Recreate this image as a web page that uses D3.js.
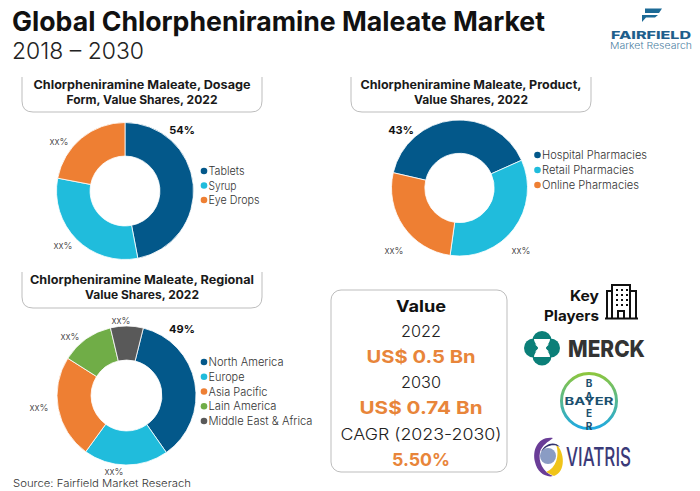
<!DOCTYPE html>
<html>
<head>
<meta charset="utf-8">
<script src="https://cdn.jsdelivr.net/npm/d3@7"></script>
<style>
  html, body { margin: 0; padding: 0; background: #fff; }
  svg { display: block; font-family: Inter, Lato, sans-serif; }
</style>
</head>
<body>
<div id="chart"></div>
<script>
const dosageNames = ["Tablets", "Syrup", "Eye Drops"];
const dosageShares = [47, 31, 22];
const dosageLabels = ["54%", "xx%", "xx%"];

const productNames = ["Hospital Pharmacies", "Retail Pharmacies", "Online Pharmacies"];
const productShares = [39.7, 33.9, 26.4];
const productLabels = ["43%", "xx%", "xx%"];

const regionNames = ["North America", "Europe", "Asia Pacific", "Lain America", "Middle East & Africa"];
const regionShares = [36.4, 19.7, 24, 12.3, 7.6];
const regionLabels = ["49%", "xx%", "xx%", "xx%", "xx%"];

const palette = ["#03588a", "#20bcdc", "#ee7f33", "#70ad47", "#595959"];

const w = 700, h = 491;
const svg = d3.select("#chart").append("svg")
  .attr("width", w).attr("height", h).attr("viewBox", `0 0 ${w} ${h}`);

// text with a fixed width, the reference font is wider than what we have here
function label(x, y, str, size, opts = {}) {
  const t = svg.append("text")
    .attr("x", x).attr("y", y)
    .attr("font-size", size)
    .attr("font-weight", opts.weight || 400)
    .attr("fill", opts.fill || "#222")
    .attr("text-anchor", opts.anchor || "start")
    .text(str);
  if (opts.len) t.attr("textLength", opts.len).attr("lengthAdjust", "spacingAndGlyphs");
  return t;
}

function donut(cfg) {
  const color = d3.scaleOrdinal().domain(cfg.names).range(palette);
  const start = cfg.start * Math.PI / 180;
  const pie = d3.pie().sort(null).startAngle(start).endAngle(start + 2 * Math.PI);
  const arc = d3.arc().innerRadius(cfg.r * 0.51).outerRadius(cfg.r);
  const g = svg.append("g").attr("transform", `translate(${cfg.cx},${cfg.cy})`);
  g.selectAll("path")
    .data(pie(cfg.values))
    .enter()
    .append("path")
    .attr("d", arc)
    .attr("fill", (d, i) => color(cfg.names[i]))
    .attr("stroke", "#fff")
    .attr("stroke-width", 0.8);

  // value labels sit at hand placed offsets around the ring
  cfg.labels.forEach((s, i) => {
    const p = cfg.labelPos[i];
    label(p[0], p[1], s, i === 0 ? 11 : 9.5, {
      weight: i === 0 ? 700 : 300, fill: i === 0 ? "#111" : "#333", anchor: "middle"
    });
  });

  const y = d3.scalePoint().domain(cfg.names).range(cfg.legendY);
  cfg.names.forEach((n, i) => {
    svg.append("circle").attr("cx", cfg.legendX).attr("cy", y(n)).attr("r", 3.3).attr("fill", color(n));
    label(cfg.legendX + 4.5, y(n) + 4, n, 11, { weight: 300, fill: "#333", len: cfg.legendLen[i] });
  });
}

function titleBox(x, y, wd, ht, lines, lens) {
  const r = 11;
  svg.append("path")
    .attr("d", `M${x},${y} V${y + ht - r} Q${x},${y + ht} ${x + r},${y + ht} H${x + wd - r} Q${x + wd},${y + ht} ${x + wd},${y + ht - r} V${y}`)
    .attr("fill", "none").attr("stroke", "#bdbdbd").attr("stroke-width", 1);
  lines.forEach((s, i) => {
    label(x + wd / 2, y + 11.5 + i * 15, s, 12, { weight: 700, fill: "#1a1a1a", anchor: "middle", len: lens[i] });
  });
}

// header
label(12, 30.5, "Global Chlorpheniramine Maleate Market", 27, { weight: 700, fill: "#111", len: 533 });
label(12, 59, "2018 – 2030", 23, { weight: 300, fill: "#222", len: 132 });

// fairfield logo
svg.append("path").attr("d", "M645,8.5 H662 L659,13 H645 Z M642,15 H658 L655,17.5 H646 L642,22 Z").attr("fill", "#1c6a96");
label(611, 38.5, "FAIRFIELD", 10.5, { weight: 800, fill: "#1f5f8c", len: 80 });
label(610, 49, "Market Research", 9.5, { weight: 300, fill: "#4d7fa3", len: 82 });

titleBox(22, 77, 240, 35, ["Chlorpheniramine Maleate, Dosage", "Form, Value Shares, 2022"], [217, 151]);
titleBox(351, 77, 240, 35, ["Chlorpheniramine Maleate, Product,", "Value Shares, 2022"], [221, 114]);
titleBox(22, 272, 240, 36, ["Chlorpheniramine Maleate, Regional", "Value Shares, 2022"], [224, 114]);

donut({
  cx: 125, cy: 191, r: 68.5, start: 0,
  names: dosageNames, values: dosageShares, labels: dosageLabels,
  labelPos: [[182, 134], [63, 249], [59, 145]],
  legendX: 204, legendY: [171, 200], legendLen: [36, 28, 51]
});
donut({
  cx: 459.5, cy: 188, r: 68, start: -77,
  names: productNames, values: productShares, labels: productLabels,
  labelPos: [[401, 134], [521, 254], [394, 254]],
  legendX: 537.5, legendY: [155, 185], legendLen: [105, 92, 97]
});
donut({
  cx: 126.5, cy: 395.5, r: 69.5, start: 14,
  names: regionNames, values: regionShares, labels: regionLabels,
  labelPos: [[182, 333], [114, 475], [39, 411], [70, 340], [121, 324]],
  legendX: 204, legendY: [362, 421], legendLen: [75, 36, 59, 68, 104]
});

label(13, 487, "Source: Fairfield Market Reserach", 10.5, { weight: 300, fill: "#333", len: 178 });

// value panel
svg.append("rect").attr("x", 331).attr("y", 290).attr("width", 176).attr("height", 182).attr("rx", 10)
  .attr("fill", "none").attr("stroke", "#bdbdbd");
const panelX = 421;
label(panelX, 312, "Value", 16, { weight: 700, fill: "#111", anchor: "middle", len: 50 });
label(panelX, 337, "2022", 16, { weight: 300, fill: "#222", anchor: "middle", len: 40 });
label(panelX, 363, "US$ 0.5 Bn", 18, { weight: 700, fill: "#e8853a", anchor: "middle", len: 109 });
label(panelX, 388, "2030", 16, { weight: 300, fill: "#222", anchor: "middle", len: 40 });
label(panelX, 414, "US$ 0.74 Bn", 18, { weight: 700, fill: "#e8853a", anchor: "middle", len: 123 });
label(panelX, 440, "CAGR (2023-2030)", 16, { weight: 300, fill: "#222", anchor: "middle", len: 161 });
label(panelX, 466, "5.50%", 18, { weight: 700, fill: "#e8853a", anchor: "middle", len: 58 });

// key players
label(599, 301, "Key", 14, { weight: 700, fill: "#111", anchor: "end", len: 29 });
label(599, 321, "Players", 14, { weight: 700, fill: "#111", anchor: "end", len: 55 });
const bld = svg.append("g").attr("fill", "none").attr("stroke", "#111").attr("stroke-width", 2);
bld.append("path").attr("d", "M605,318.5 H638 M612,318 V285 H630 V318 M630,291 H636 V318 M612,291 H607 V318 M618,318 V311 H624 V318");
d3.range(4).forEach(i => {
  [617, 622, 627].forEach(x => {
    svg.append("rect").attr("x", x - 1).attr("y", 289 + i * 5).attr("width", 2).attr("height", 2).attr("fill", "#111");
  });
});

// merck
const merck = svg.append("g").attr("fill", "#0b7f78");
[[542, 340.5], [542, 356]].forEach(c => merck.append("circle").attr("cx", c[0]).attr("cy", c[1]).attr("r", 9.5));
[[533.5, 348], [550.5, 348]].forEach(c => merck.append("circle").attr("cx", c[0]).attr("cy", c[1]).attr("r", 9.5));
svg.append("path").attr("d", "M534,339 H550 C550,343 546,346 546,348 C546,350 550,353 550,357 H534 C534,353 538,350 538,348 C538,346 534,343 534,339 Z").attr("fill", "#fff");
svg.append("path").attr("d", "M535,344.5 H549 L545,348 L549,351.5 H535 L539,348 Z").attr("fill", "#fff");
label(568, 357, "MERCK", 23, { weight: 800, fill: "#333", len: 77 });

// bayer, the cross shares its Y so the vertical word is split in two
const bayerGrad = svg.append("defs").append("linearGradient")
  .attr("id", "bayerRing").attr("x1", 0).attr("y1", 0).attr("x2", 0).attr("y2", 1);
bayerGrad.append("stop").attr("offset", 0).attr("stop-color", "#8cc63f");
bayerGrad.append("stop").attr("offset", 1).attr("stop-color", "#1fa9e1");
svg.append("circle").attr("cx", 589).attr("cy", 401).attr("r", 27.5)
  .attr("fill", "#fff").attr("stroke", "url(#bayerRing)").attr("stroke-width", 3);
label(589, 405, "BAYER", 10, { weight: 700, fill: "#1b4f6e", anchor: "middle", len: 49 });
[["BA", 376.5], ["ER", 406.5]].forEach(p => {
  svg.append("text").attr("x", 589).attr("y", p[1])
    .attr("font-size", 10).attr("font-weight", 700).attr("fill", "#1b4f6e")
    .style("writing-mode", "vertical-rl").style("text-orientation", "upright")
    .style("letter-spacing", "1.5px")
    .text(p[0]);
});

// viatris
svg.append("path").attr("d", "M553,438 C538,436 532,450 535,462 C537,472 546,478 553,476 C543,472 538,462 540,452 C542,445 548,442 553,438 Z").attr("fill", "#6a3d97");
svg.append("path").attr("d", "M554,476 C566,472 565,452 556,444 C560,456 556,468 546,472 Z").attr("fill", "#f0c419");
svg.append("circle").attr("cx", 548).attr("cy", 456).attr("r", 8).attr("fill", "#8a9cc4");
svg.append("path").attr("d", "M541,452 C545,443 555,441 560,447 C553,443 546,446 541,452 Z").attr("fill", "#33346f");
label(566, 466, "VIATRIS", 25, { weight: 500, fill: "#3b3a78", len: 65 });
</script>
</body>
</html>
